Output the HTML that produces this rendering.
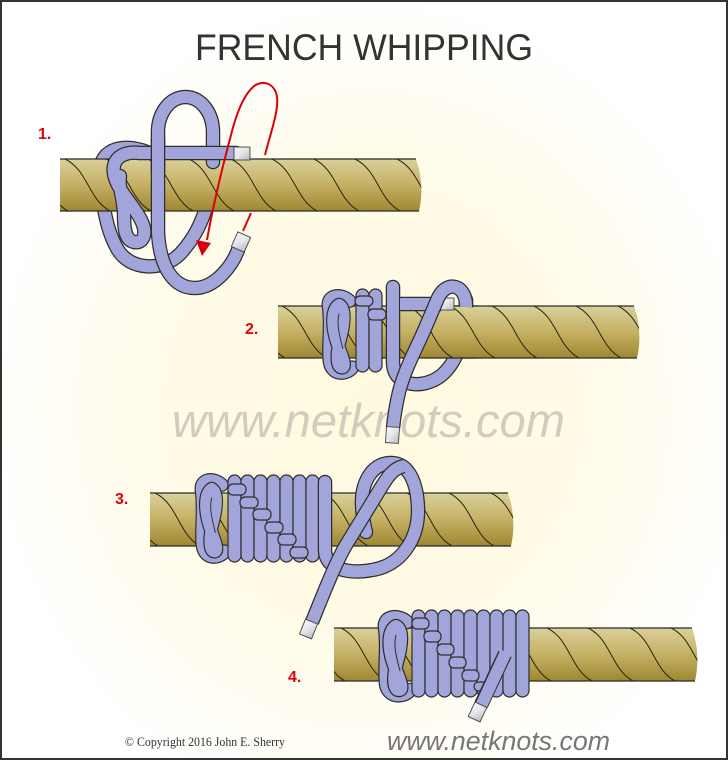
<!DOCTYPE html>
<html><head><meta charset="utf-8"><style>
html,body{margin:0;padding:0;background:#fff}
#w{width:728px;height:760px;position:relative;overflow:hidden;background:radial-gradient(ellipse 390px 420px at 372px 410px,#fff9df 0%,#fffbe6 50%,#fffdf4 78%,#ffffff 100%)}
svg{position:absolute;left:0;top:0}
.o{fill:none;stroke:#2e2e2e;stroke-width:14.5;stroke-linecap:round;stroke-linejoin:round}
.f{fill:none;stroke:#a2a5d9;stroke-width:12;stroke-linecap:round;stroke-linejoin:round}
.ob{fill:none;stroke:#2e2e2e;stroke-width:14.5;stroke-linecap:butt;stroke-linejoin:round}
.fb{fill:none;stroke:#a2a5d9;stroke-width:12;stroke-linecap:butt;stroke-linejoin:round}
.bar{fill:#a2a5d9;stroke:#2e2e2e;stroke-width:1.2}
.cap{fill:url(#cg);stroke:#444;stroke-width:0.9}
.st{fill:none;stroke:#2a2510;stroke-width:1}
.edge{fill:none;stroke:#2a2a2a;stroke-width:1.3}
.lbl{font-family:"Liberation Sans",Arial,sans-serif;font-weight:bold;font-size:16px;fill:#e0000e}
</style></head><body><div id="w">
<svg width="728" height="760" viewBox="0 0 728 760" xmlns="http://www.w3.org/2000/svg">
<defs>
<linearGradient id="rg" x1="0" y1="0" x2="0" y2="1">
<stop offset="0" stop-color="#dad09a"/><stop offset="0.5" stop-color="#c5b165"/><stop offset="1" stop-color="#9f8731"/>
</linearGradient>
<linearGradient id="cg" x1="0" y1="0" x2="1" y2="1">
<stop offset="0" stop-color="#f6f6fa"/><stop offset="0.5" stop-color="#e4e4ea"/><stop offset="1" stop-color="#b9b9c2"/>
</linearGradient>
<clipPath id="c1"><path d="M60,159H416Q425,185 419,211H60Z"/></clipPath>
<clipPath id="c2"><path d="M278,306H634Q643,332 637,358H278Z"/></clipPath>
<clipPath id="c3"><path d="M150,493H508Q517,519.5 511,546H150Z"/></clipPath>
<clipPath id="c4"><path d="M334,628H692Q701,654.5 695,681H334Z"/></clipPath>
<clipPath id="p2"><rect x="446" y="305" width="32" height="54"/></clipPath>

<g id="r1">
<path d="M60,159H416Q425,185 419,211H60Z" fill="url(#rg)"/>
<path class="st" clip-path="url(#c1)" d="M23,159C46,170 46,199 68,211 M65,159C88,170 88,199 110,211 M106,159C129,170 129,199 151,211 M148,159C171,170 171,199 193,211 M189,159C212,170 212,199 234,211 M231,159C254,170 254,199 276,211 M272,159C295,170 295,199 317,211 M314,159C337,170 337,199 359,211 M355,159C378,170 378,199 400,211 M397,159C420,170 420,199 442,211"/>
<path class="edge" d="M60,159H416 M60,211H419"/>
</g>
<g id="r2">
<path d="M278,306H634Q643,332 637,358H278Z" fill="url(#rg)"/>
<path class="st" clip-path="url(#c2)" d="M240,306C263,317 263,346 285,358 M282,306C305,317 305,346 327,358 M324,306C347,317 347,346 369,358 M366,306C389,317 389,346 411,358 M408,306C431,317 431,346 453,358 M450,306C473,317 473,346 495,358 M492,306C515,317 515,346 537,358 M534,306C557,317 557,346 579,358 M576,306C599,317 599,346 621,358 M618,306C641,317 641,346 663,358"/>
<path class="edge" d="M278,306H634 M278,358H637"/>
</g>
<g id="r3">
<path d="M150,493H508Q517,519.5 511,546H150Z" fill="url(#rg)"/>
<path class="st" clip-path="url(#c3)" d="M113,493C136,504 136,534 158,546 M155,493C178,504 178,534 200,546 M197,493C220,504 220,534 242,546 M239,493C262,504 262,534 284,546 M281,493C304,504 304,534 326,546 M323,493C346,504 346,534 368,546 M365,493C388,504 388,534 410,546 M407,493C430,504 430,534 452,546 M449,493C472,504 472,534 494,546 M491,493C514,504 514,534 536,546"/>
<path class="edge" d="M150,493H508 M150,546H511"/>
</g>
<g id="r4">
<path d="M334,628H692Q701,654.5 695,681H334Z" fill="url(#rg)"/>
<path class="st" clip-path="url(#c4)" d="M300,628C323,639 323,669 345,681 M341,628C364,639 364,669 386,681 M382,628C405,639 405,669 427,681 M424,628C447,639 447,669 469,681 M465,628C488,639 488,669 510,681 M506,628C529,639 529,669 551,681 M547,628C570,639 570,669 592,681 M588,628C611,639 611,669 633,681 M630,628C653,639 653,669 675,681 M671,628C694,639 694,669 716,681"/>
<path class="edge" d="M334,628H692 M334,681H695"/>
</g>

<g id="knot">
<path class="o" d="M30,9 C21,1 6,3 8,15 C11,35 7,55 9,71 C11,85 27,85 33,77"/>
<path class="f" d="M30,9 C21,1 6,3 8,15 C11,35 7,55 9,71 C11,85 27,85 33,77"/>
<path class="o" d="M19,13 C9,19 12,42 19,57 C23,67 27,77 22,77 C16,77 16,63 20,49 C24,35 27,17 19,13Z"/>
<path class="f" d="M19,13 C9,19 12,42 19,57 C23,67 27,77 22,77 C16,77 16,63 20,49 C24,35 27,17 19,13Z"/>
<path d="M19,22 C16,34 20,46 23,58" fill="none" stroke="#2e2e2e" stroke-width="1"/>
</g>
</defs>

<rect x="1" y="1" width="726" height="758" fill="none" stroke="#333" stroke-width="2"/>

<text x="364" y="60" text-anchor="middle" font-family="Liberation Sans, Arial, sans-serif" font-size="37" fill="#333" textLength="338" lengthAdjust="spacingAndGlyphs">FRENCH WHIPPING</text>

<text x="172" y="437" font-family="Liberation Sans, Arial, sans-serif" font-style="italic" font-size="47" fill="#d0cdbf" textLength="393" lengthAdjust="spacingAndGlyphs">www.netknots.com</text>

<text class="lbl" x="38" y="139">1.</text>
<text class="lbl" x="245" y="334">2.</text>
<text class="lbl" x="115" y="504">3.</text>
<text class="lbl" x="288" y="682">4.</text>

<!-- ========== FIG 1 ========== -->
<path class="o" d="M147,152 C120,142 97,150 100,178 C103,205 106,230 118,250 C130,270 162,272 180,254 C193,240 203,222 208,200 L212,170"/>
<path class="f" d="M147,152 C120,142 97,150 100,178 C103,205 106,230 118,250 C130,270 162,272 180,254 C193,240 203,222 208,200 L212,170"/>
<use href="#r1"/>
<path class="o" d="M213,162 L213,132 C213,113 201,97 185.5,97 C170,97 158,113 158,132 L158,232 C160,270 175,288 195,288 C215,288 232,266 238,250"/>
<path class="f" d="M213,162 L213,132 C213,113 201,97 185.5,97 C170,97 158,113 158,132 L158,232 C160,270 175,288 195,288 C215,288 232,266 238,250"/>
<path class="o" d="M236,153 L140,153 C124,151 111,158 114,174 C117,190 133,204 141,220 C148,234 143,244 134,242 C125,240 124,228 124,214 C124,200 118,188 120,176"/>
<path class="f" d="M236,153 L140,153 C124,151 111,158 114,174 C117,190 133,204 141,220 C148,234 143,244 134,242 C125,240 124,228 124,214 C124,200 118,188 120,176"/>
<path class="ob" d="M158,138 L158,172"/>
<path class="fb" d="M158,136 L158,174"/>
<rect class="cap" x="234" y="147" width="16" height="13"/>
<rect class="cap" x="-7" y="-8" width="14" height="16" transform="translate(241,242) rotate(24)"/>
<path d="M265,155 C270,135 279,110 277,97 C275,83 262,79 253,87 C243,96 236,115 231,135 C223,165 214,200 207,240" stroke="#d8000a" stroke-width="2" fill="none"/>
<polygon points="202,256 196,240 211,243" fill="#d8000a"/>
<line x1="251" y1="213" x2="243" y2="231" stroke="#d8000a" stroke-width="2"/>

<!-- ========== FIG 2 ========== -->
<use href="#r2"/>
<use href="#knot" transform="translate(321,292) scale(0.95,0.98)"/>
<rect class="bar" x="356" y="289" width="13" height="83" rx="6.5"/>
<rect class="bar" x="369" y="289" width="13" height="83" rx="6.5"/>
<rect class="bar" x="355" y="296" width="18" height="10" rx="5"/>
<rect class="bar" x="368" y="309" width="18" height="11" rx="5"/>
<path class="o" d="M393,287 L393,362 C393,388 425,390 443,374 C458,360 466,335 466,300"/>
<path class="f" d="M393,287 L393,362 C393,388 425,390 443,374 C458,360 466,335 466,300"/>
<use href="#r2" clip-path="url(#p2)"/>
<path class="ob" d="M400,304 L441,304"/>
<path class="fb" d="M400,304 L442,304"/>
<rect class="cap" x="440" y="298" width="14" height="12"/>
<path class="ob" d="M466,307 C467,285 447,279 438,298 L423,333 C413,355 404,372 399,392 C396,405 394,417 393,428"/>
<path class="fb" d="M466,307 C467,285 447,279 438,298 L423,333 C413,355 404,372 399,392 C396,405 394,417 393,428"/>
<rect class="cap" x="-6.5" y="-8" width="13" height="16" transform="translate(392.5,435) rotate(4)"/>

<!-- ========== FIG 3 ========== -->
<use href="#r3"/>
<use href="#knot" transform="translate(194,476) scale(0.93,0.98)"/>
<rect class="bar" x="228" y="475" width="13" height="87" rx="6.5"/>
<rect class="bar" x="241" y="475" width="13" height="87" rx="6.5"/>
<rect class="bar" x="254" y="475" width="13" height="87" rx="6.5"/>
<rect class="bar" x="267" y="475" width="13" height="87" rx="6.5"/>
<rect class="bar" x="280" y="475" width="13" height="87" rx="6.5"/>
<rect class="bar" x="293" y="475" width="13" height="87" rx="6.5"/>
<rect class="bar" x="306" y="475" width="13" height="87" rx="6.5"/>
<rect class="bar" x="228" y="484" width="18" height="11" rx="5"/>
<rect class="bar" x="240" y="497" width="18" height="11" rx="5"/>
<rect class="bar" x="253" y="509" width="18" height="11" rx="5"/>
<rect class="bar" x="265" y="522" width="18" height="11" rx="5"/>
<rect class="bar" x="278" y="534" width="18" height="11" rx="5"/>
<rect class="bar" x="290" y="547" width="18" height="11" rx="5"/>
<path class="o" d="M325,482 L325,550 C325,570 350,574 372,570 C400,566 419,540 418,508 C417,478 406,462 390,463 C372,464 362,482 362,502 C362,515 364,524 366,532"/>
<path class="f" d="M325,482 L325,550 C325,570 350,574 372,570 C400,566 419,540 418,508 C417,478 406,462 390,463 C372,464 362,482 362,502 C362,515 364,524 366,532"/>
<path class="ob" d="M404,466 C394,468 388,476 382,486 L346,545 C336,562 324,592 312,622"/>
<path class="fb" d="M404,466 C394,468 388,476 382,486 L346,545 C336,562 324,592 312,622"/>
<rect class="cap" x="-6.5" y="-8" width="13" height="16" transform="translate(308.5,629) rotate(22)"/>

<!-- ========== FIG 4 ========== -->
<use href="#r4"/>
<use href="#knot" transform="translate(377,613)"/>
<rect class="bar" x="412" y="610" width="13" height="87" rx="6.5"/>
<rect class="bar" x="425" y="610" width="13" height="87" rx="6.5"/>
<rect class="bar" x="438" y="610" width="13" height="87" rx="6.5"/>
<rect class="bar" x="451" y="610" width="13" height="87" rx="6.5"/>
<rect class="bar" x="464" y="610" width="13" height="87" rx="6.5"/>
<rect class="bar" x="477" y="610" width="13" height="87" rx="6.5"/>
<rect class="bar" x="490" y="610" width="13" height="87" rx="6.5"/>
<rect class="bar" x="503" y="610" width="13" height="87" rx="6.5"/>
<rect class="bar" x="516" y="610" width="13" height="87" rx="6.5"/>
<rect class="bar" x="412" y="618" width="17" height="11" rx="5"/>
<rect class="bar" x="424" y="631" width="17" height="11" rx="5"/>
<rect class="bar" x="437" y="644" width="17" height="11" rx="5"/>
<rect class="bar" x="449" y="657" width="17" height="11" rx="5"/>
<rect class="bar" x="462" y="670" width="17" height="11" rx="5"/>
<rect class="bar" x="474" y="682" width="13" height="9" rx="4.5"/>
<path class="ob" d="M505,654 L481,705"/>
<path class="fb" d="M506,652 L481,706"/>
<rect class="cap" x="-6.5" y="-8" width="13" height="16" transform="translate(477.5,712) rotate(25)"/>

<text x="125" y="746" font-family="Liberation Serif, Times, serif" font-size="12.5" fill="#333" textLength="160" lengthAdjust="spacingAndGlyphs">© Copyright  2016  John E. Sherry</text>
<text x="387" y="750" font-family="Liberation Sans, Arial, sans-serif" font-style="italic" font-size="26.5" fill="#777" textLength="223" lengthAdjust="spacingAndGlyphs">www.netknots.com</text>
</svg>
</div></body></html>
